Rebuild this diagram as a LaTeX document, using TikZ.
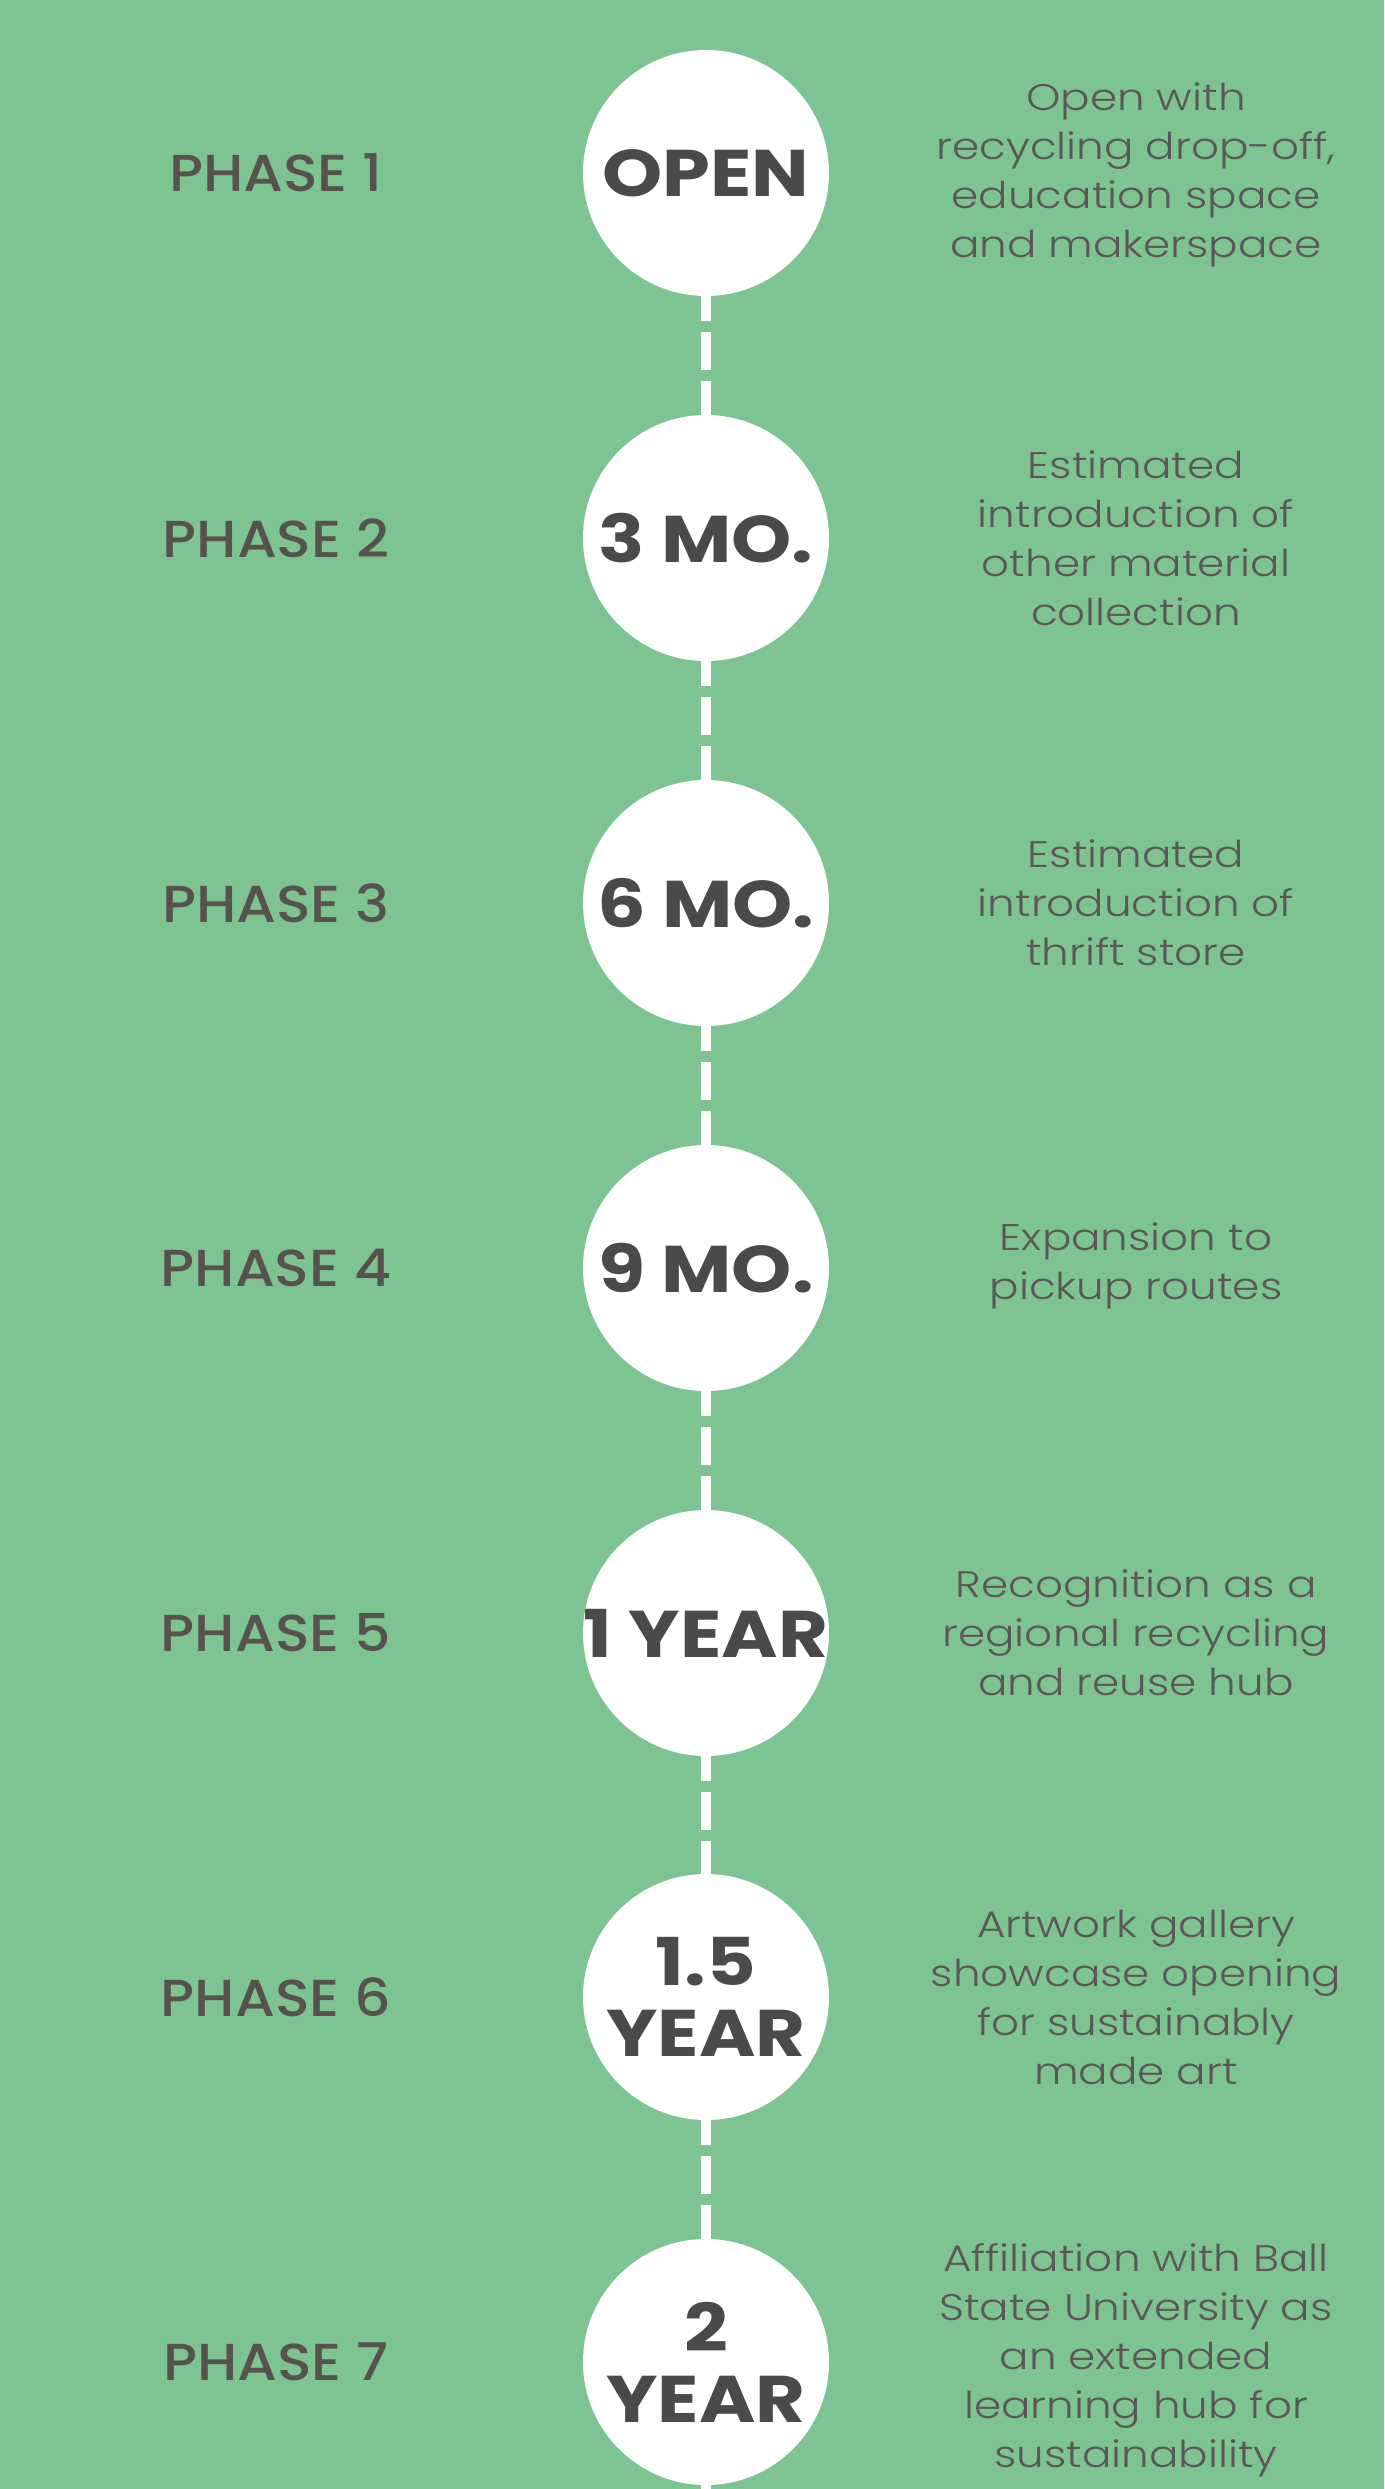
\documentclass[tikz,border=0pt]{standalone}
\usepackage{fontspec}
\newfontfamily\descfont{Poppins Light}[FakeStretch=1.18]
\newfontfamily\labfont{Poppins Medium}[FakeStretch=1.1]
\newfontfamily\bigfont{Poppins Bold}[FakeStretch=1.16]
\definecolor{bggreen}{HTML}{7EC493}
\definecolor{bigtext}{HTML}{4A4A4A}
\definecolor{labtext}{HTML}{58524F}
\definecolor{desctext}{HTML}{5C5755}
\tikzset{
  x=1pt, y=-1pt,
  dot/.style={circle, fill=white, draw=none, minimum size=246pt, inner sep=0pt},
  bigtxt/.style={text=bigtext, align=center, inner sep=0pt, font={\bigfont\fontsize{66}{71}\selectfont}},
  phaselab/.style={text=labtext, inner sep=0pt, font={\labfont\fontsize{52}{60}\selectfont}},
  desc/.style={text=desctext, align=center, inner sep=0pt, font={\descfont\fontsize{37}{49}\selectfont}},
  link/.style={draw=white, line width=10pt, dash pattern=on 38pt off 11pt, dash phase=13pt}
}
\begin{document}
\begin{tikzpicture}
\fill[bggreen] (0,0) rectangle (1384,2489);
\useasboundingbox (0,0) rectangle (1384,2489);
% circles
\node[dot] (c1) at (706,173) {};
\node[dot] (c2) at (706,538) {};
\node[dot] (c3) at (706,903) {};
\node[dot] (c4) at (706,1268) {};
\node[dot] (c5) at (706,1633) {};
\node[dot] (c6) at (706,1997) {};
\node[dot] (c7) at (706,2362) {};
\coordinate (bot) at (706,2489);
% connectors
\draw[link] (c1.south) -- (c2.north);
\draw[link] (c2.south) -- (c3.north);
\draw[link] (c3.south) -- (c4.north);
\draw[link] (c4.south) -- (c5.north);
\draw[link] (c5.south) -- (c6.north);
\draw[link] (c6.south) -- (c7.north);
\draw[link] (c7.south) -- (bot);
% circle texts
\node[bigtxt] (t1) at (c1) {OPEN};
\node[bigtxt] (t2) at (c2) {3 MO.};
\node[bigtxt] (t3) at (c3) {6 MO.};
\node[bigtxt] (t4) at (c4) {9 MO.};
\node[bigtxt] (t5) at (c5) {1 YEAR};
\node[bigtxt] (t6) at (c6) {1.5\\YEAR};
\node[bigtxt] (t7) at (c7) {2\\YEAR};
% phase labels
\node[phaselab] (p1) at (276,173) {PHASE 1};
\node[phaselab] (p2) at (276,538) {PHASE 2};
\node[phaselab] (p3) at (276,903) {PHASE 3};
\node[phaselab] (p4) at (276,1268) {PHASE 4};
\node[phaselab] (p5) at (276,1633) {PHASE 5};
\node[phaselab] (p6) at (276,1997) {PHASE 6};
\node[phaselab] (p7) at (276,2362) {PHASE 7};
% descriptions
\node[desc] (d1) at (1136,175) {Open with\\recycling drop-off,\\education space\\and makerspace};
\node[desc] (d2) at (1136,538) {Estimated\\introduction of\\other material\\collection};
\node[desc] (d3) at (1136,903) {Estimated\\introduction of\\thrift store};
\node[desc] (d4) at (1136,1266) {Expansion to\\pickup routes};
\node[desc] (d5) at (1136,1633) {Recognition as a\\regional recycling\\and reuse hub};
\node[desc] (d6) at (1136,1997) {Artwork gallery\\showcase opening\\for sustainably\\made art};
\node[desc] (d7) at (1136,2360) {Affiliation with Ball\\State University as\\an extended\\learning hub for\\sustainability};
\end{tikzpicture}
\end{document}
